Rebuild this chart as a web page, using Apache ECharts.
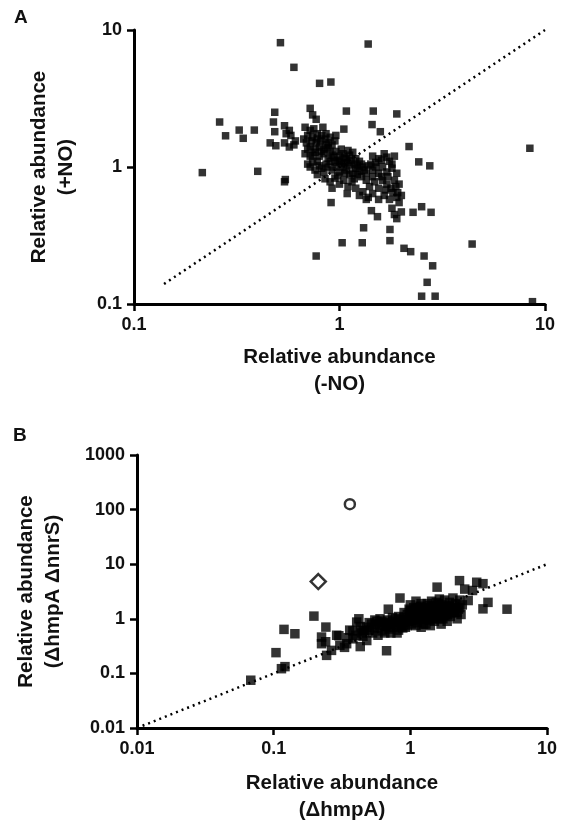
<!DOCTYPE html>
<html>
<head>
<meta charset="utf-8">
<script src="https://cdn.jsdelivr.net/npm/echarts@6/dist/echarts.min.js"></script>
<style>
html,body{margin:0;padding:0;background:#fff;}
#chart{width:567px;height:825px;}
</style>
</head>
<body>
<div id="chart"></div>
<script>
// ---------- Panel A data: [relative abundance (-NO), relative abundance (+NO)]
var panelA_outliers = [
  [0.516,8.08],[1.379,7.9],[0.60,5.34],[0.80,4.08],[0.908,4.17],
  [0.261,2.13],[0.279,1.69],[0.325,1.86],[0.34,1.62],[0.385,1.86],
  [0.484,2.51],[0.477,2.13],[0.484,1.81],[0.46,1.5],[0.49,1.43],
  [0.215,0.91],[0.40,0.93],[0.54,0.78],[0.545,0.81],
  [1.08,2.56],[1.46,2.56],[1.90,2.44],[1.44,2.04],[1.58,1.81],[1.05,1.89],[0.83,1.95],
  [0.72,2.68],[0.74,2.40],[0.77,2.23],
  [2.18,1.41],[8.44,1.37],[2.43,1.09],[2.75,1.02],
  [0.91,0.55],[1.09,0.64],[2.28,0.467],[2.51,0.513],[2.79,0.467],
  [1.31,0.36],[1.03,0.28],[1.29,0.28],[1.76,0.35],[1.76,0.29],[0.77,0.224],
  [2.06,0.255],[2.22,0.241],[2.58,0.224],[2.84,0.19],[2.67,0.144],
  [2.51,0.114],[2.92,0.114],[4.42,0.274],[8.69,0.104]
];
var panelA_cluster = [
  [0.54,2.0],[0.57,1.85],[0.55,1.75],[0.58,1.7],[0.54,1.5],[0.57,1.4],[0.6,1.45],[0.61,1.55],
  [0.68,1.95],[0.72,1.85],[0.75,1.9],[0.7,1.7],[0.74,1.65],[0.78,1.75],[0.82,1.7],[0.69,1.5],
  [0.73,1.55],[0.77,1.5],[0.81,1.55],[0.85,1.6],[0.88,1.5],[0.92,1.45],[0.95,1.55],[0.72,1.4],
  [0.76,1.35],[0.8,1.4],[0.84,1.35],[0.88,1.38],[0.67,1.6],[0.96,1.7],[0.9,1.65],
  [0.68,1.25],[0.72,1.2],[0.76,1.28],[0.8,1.2],[0.84,1.25],[0.88,1.15],[0.92,1.22],[0.96,1.3],
  [1.0,1.2],[1.04,1.25],[1.08,1.15],[1.12,1.22],[1.16,1.28],[1.2,1.15],[1.25,1.1],[0.9,1.1],
  [0.95,1.08],[1.0,1.1],[1.06,1.07],[0.78,1.1],[0.74,1.08],[0.7,1.05],[1.45,1.2],[1.55,1.15],
  [1.65,1.25],[1.75,1.1],[1.85,1.2],[1.5,1.08],[1.02,1.35],[1.1,1.32],
  [0.72,1.0],[0.76,0.95],[0.8,1.02],[0.84,0.92],[0.88,1.0],[0.92,0.95],[0.96,1.0],[1.0,0.92],
  [1.04,1.0],[1.08,0.95],[1.12,1.02],[1.16,0.9],[1.2,0.98],[1.25,0.93],[1.3,1.0],[1.35,0.9],
  [1.45,0.95],[1.55,0.9],[1.62,1.0],[1.7,0.92],[1.8,0.98],[1.9,0.9],[1.38,1.02],[0.78,0.88],
  [0.85,0.82],[0.9,0.78],[0.95,0.83],[1.0,0.75],[1.05,0.8],[1.1,0.72],[1.15,0.78],[1.2,0.7],
  [0.92,0.7],[1.35,0.8],[1.4,0.72],[1.48,0.78],[1.55,0.7],[1.62,0.8],[1.7,0.75],[1.78,0.7],
  [1.85,0.8],[1.95,0.75],[1.45,0.85],
  [1.25,0.62],[1.3,0.66],[1.38,0.6],[1.45,0.64],[1.55,0.58],[1.65,0.62],[1.75,0.58],[1.82,0.65],
  [1.9,0.6],[2.0,0.62],[1.35,0.58],[1.43,0.48],[1.53,0.434],[1.8,0.5],[1.85,0.45],[1.9,0.42],
  [2.0,0.47],[1.95,0.55],
  [0.82,1.3],[0.86,1.45],[0.9,1.3],[0.94,1.18],[0.98,1.12],[1.02,1.05],[1.06,1.18],[1.1,1.08],
  [1.14,1.12],[1.18,1.05],[1.22,1.02],[1.28,1.05],[1.32,0.95],[1.28,0.85],[1.22,0.88],[1.18,0.82],
  [1.12,0.88],[1.06,0.9],[0.98,0.86],[0.86,1.05],[0.82,0.98],[0.74,1.22],[0.7,1.35],[0.78,1.6],
  [0.86,1.75],[1.42,1.05],[1.5,1.0],[1.6,0.85],[1.68,0.68],[1.72,0.85],[1.6,1.12],[1.7,1.18],
  [1.8,1.05],[1.88,0.72],[1.92,0.65]
];
var panelA_diagonal = [[0.14,0.14],[10,10]];
var panelA_xTicks = [0.1, 1, 10];
var panelA_yTicks = [0.1, 1, 10];

// ---------- Panel B data: [relative abundance (ΔhmpA), relative abundance (ΔhmpA ΔnnrS)]
var panelB_squares = [
  [0.197,1.12],[0.119,0.64],[0.143,0.532],[0.241,0.705],[0.224,0.463],[0.224,0.35],
  [0.104,0.24],[0.114,0.122],[0.121,0.133],[0.068,0.075],[0.244,0.214],
  [2.29,5.0],[3.06,4.67],[3.4,4.4],[2.5,3.5],[2.85,3.3],[2.65,2.16],[3.7,2.0],[3.4,1.52],
  [5.1,1.5],[1.57,3.8],[0.84,2.4],[0.69,1.5],[0.67,0.26],[0.42,1.0],[0.38,0.6],
  [0.289,0.5],[0.305,0.326],[0.342,0.35],[0.38,0.43],[0.405,0.87],[0.45,0.61],[0.48,0.4],
  [0.43,0.31],[0.265,0.264],[0.3,0.49],[0.24,0.38],[0.35,0.45],[0.4,0.5],[0.44,0.55],
  [0.46,0.6],[0.36,0.62],[0.43,0.72],[0.45,0.48],[0.33,0.3],
  [0.48,0.7],[0.5,0.62],[0.52,0.8],[0.55,0.68],[0.57,0.9],[0.6,0.75],[0.62,0.6],[0.64,0.85],
  [0.66,0.72],[0.68,0.95],[0.7,0.65],[0.72,0.8],[0.74,0.9],[0.76,0.7],[0.78,1.0],[0.8,0.82],
  [0.82,0.62],[0.84,0.95],[0.86,0.75],[0.88,0.88],[0.9,1.05],[0.53,0.55],[0.58,0.5],[0.65,0.55],
  [0.72,0.55],[0.8,0.55],[0.55,0.95],[0.6,1.0],
  [0.92,0.7],[0.95,1.2],[0.97,0.9],[1.0,1.1],[1.02,0.8],[1.05,1.3],[1.08,1.0],[1.1,1.5],
  [1.12,0.85],[1.15,1.2],[1.18,1.7],[1.2,1.0],[1.22,1.4],[1.25,0.8],[1.28,1.6],[1.3,1.1],
  [1.33,1.9],[1.35,1.3],[1.38,0.95],[1.4,1.5],[1.43,2.1],[1.45,1.2],[1.48,1.7],[1.5,0.9],
  [1.52,1.4],[1.55,2.0],[1.58,1.1],[1.6,1.6],[1.63,2.3],[1.65,1.3],[1.68,0.8],[1.7,1.8],
  [1.73,1.0],[1.75,1.5],[1.78,2.2],[1.8,1.2],[1.83,1.7],[1.86,0.9],[1.9,1.4],[1.93,2.0],
  [1.96,1.1],[2.0,1.6],[2.05,2.4],[2.1,1.3],[2.15,1.9],[2.2,1.0],[2.25,1.5],[2.3,2.2],
  [2.35,1.2],[2.4,1.8],[1.0,1.8],[1.1,2.1],[0.98,1.5],[1.2,0.7],[1.4,0.75],
  [0.5,0.85],[0.56,0.78],[0.62,0.9],[0.68,0.82],[0.74,1.05],[0.82,1.1],[0.88,0.68],[0.94,0.95],
  [1.0,1.4],[1.04,0.95],[1.06,1.6],[1.12,1.3],[1.16,1.0],[1.2,1.9],[1.24,1.2],[1.3,1.45],
  [1.34,1.05],[1.38,1.75],[1.42,1.3],[1.46,1.0],[1.5,1.6],[1.56,1.25],[1.6,1.9],[1.64,1.0],
  [1.7,1.4],[1.76,1.15],[1.82,1.5],[1.88,1.2],[1.92,1.7],[2.0,1.3],[2.1,1.6],[2.2,1.3],
  [2.3,1.6],[1.1,0.75],[1.3,0.8],[1.5,1.2],[0.9,1.3],[0.95,0.75],[1.15,1.6],[1.25,1.0]
];
var panelB_circle = [[0.361,125.6]];
var panelB_diamond = [[0.212,4.8]];
var panelB_diagonal = [[0.01,0.01],[10,10]];
var panelB_xTicks = [0.01, 0.1, 1, 10];
var panelB_yTicks = [0.01, 0.1, 1, 10, 100, 1000];

// ---------- chart
var FONT = '"Liberation Sans", Arial, sans-serif';
var TXT = '#111';
function fmt(v){ return String(+Number(v).toPrecision(4)); }

function makeAxis(gridIndex, ticks, name, nameGap, isY){
  return {
    type: 'log', logBase: 10, gridIndex: gridIndex,
    min: ticks[0], max: ticks[ticks.length-1],
    name: name, nameLocation: 'middle', nameGap: nameGap,
    nameRotate: isY ? 90 : 0,
    nameTextStyle: {fontFamily: FONT, fontWeight: 'bold', fontSize: 20.5, lineHeight: 27, color: TXT, align: 'center'},
    axisLine: {show: true, onZero: false, lineStyle: {color: '#000', width: 3}},
    axisTick: {show: true, length: 7, inside: false, lineStyle: {color: '#000', width: 2.5}},
    minorTick: {show: false},
    splitLine: {show: false},
    axisLabel: {show: true, margin: 12, fontFamily: FONT, fontWeight: 'bold', fontSize: 18, color: TXT, formatter: fmt}
  };
}

var chart = echarts.init(document.getElementById('chart'), null, {renderer: 'canvas'});
var dotted = {color: '#000', width: 2.5, type: [2, 4], cap: 'butt'};
chart.setOption({
  animation: false,
  backgroundColor: '#fff',
  grid: [
    {left: 134, top: 30, width: 411, height: 274},
    {left: 137, top: 455, width: 410, height: 274}
  ],
  xAxis: [
    makeAxis(0, panelA_xTicks, 'Relative abundance\n(-NO)', 40, false),
    makeAxis(1, panelB_xTicks, 'Relative abundance\n(\u0394hmpA)', 42, false)
  ],
  yAxis: [
    makeAxis(0, panelA_yTicks, 'Relative abundance\n(+NO)', 54, true),
    makeAxis(1, panelB_yTicks, 'Relative abundance\n(\u0394hmpA \u0394nnrS)', 70, true)
  ],
  graphic: [
    {type: 'text', left: 14, top: 8, style: {text: 'A', fontFamily: FONT, fontWeight: 'bold', fontSize: 19, fill: TXT}},
    {type: 'text', left: 13, top: 426, style: {text: 'B', fontFamily: FONT, fontWeight: 'bold', fontSize: 19, fill: TXT}}
  ],
  series: [
    {type: 'line', xAxisIndex: 0, yAxisIndex: 0, data: panelA_diagonal, showSymbol: false, symbol: 'none', lineStyle: dotted, z: 1},
    {type: 'scatter', xAxisIndex: 0, yAxisIndex: 0, data: panelA_outliers.concat(panelA_cluster), symbol: 'rect', symbolSize: 7.5, itemStyle: {color: '#000'}, z: 3},
    {type: 'line', xAxisIndex: 1, yAxisIndex: 1, data: panelB_diagonal, showSymbol: false, symbol: 'none', lineStyle: dotted, z: 1},
    {type: 'scatter', xAxisIndex: 1, yAxisIndex: 1, data: panelB_squares, symbol: 'rect', symbolSize: 9.5, itemStyle: {color: '#000'}, z: 3},
    {type: 'scatter', xAxisIndex: 1, yAxisIndex: 1, data: panelB_circle, symbol: 'circle', symbolSize: 10, itemStyle: {color: '#fff', borderColor: '#000', borderWidth: 2.5}, z: 3},
    {type: 'scatter', xAxisIndex: 1, yAxisIndex: 1, data: panelB_diamond, symbol: 'diamond', symbolSize: 15, itemStyle: {color: '#fff', borderColor: '#000', borderWidth: 2.5}, z: 3}
  ]
});
</script>
</body>
</html>
